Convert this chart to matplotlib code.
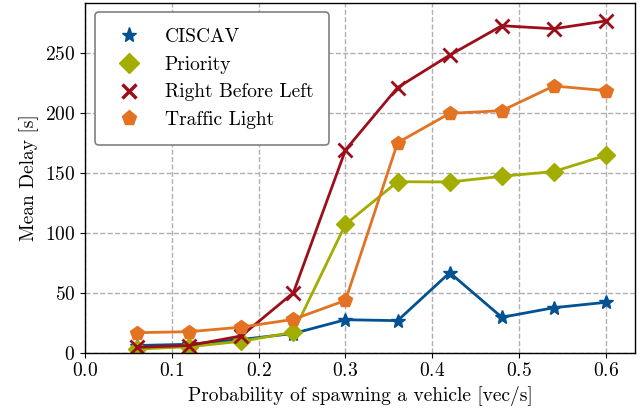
import matplotlib
matplotlib.use("Agg")
import matplotlib.pyplot as plt
from matplotlib.lines import Line2D

plt.rcParams['font.family'] = ['cmr10', 'DejaVu Serif']
plt.rcParams['mathtext.fontset'] = 'cm'
plt.rcParams['axes.formatter.use_mathtext'] = True

x = [0.06, 0.12, 0.18, 0.24, 0.30, 0.36, 0.42, 0.48, 0.54, 0.60]
ciscav = [6, 7, 11, 16, 27.5, 26.7, 66.7, 29.5, 37.5, 42]
priority = [3, 5, 9.5, 17, 107, 142.5, 142.3, 147, 151, 164.5]
rbl = [4.5, 6, 14, 50, 169, 221, 248, 272.5, 270, 276.5]
traffic = [16.7, 17.5, 21.3, 27.8, 43.6, 175, 199.5, 201.7, 222.3, 218.4]

labels = ["CISCAV", "Priority", "Right Before Left", "Traffic Light"]
colors = ["#005293", "#A2AD00", "#9C0E1A", "#E37222"]
markers = ['*', 'D', 'x', 'p']

fig = plt.figure(figsize=(6.44, 4.18), dpi=100)
ax = fig.add_axes([85/644, 1-352.7/418, 550/644, 350/418])

ax.plot(x, ciscav, color=colors[0], marker='*', markersize=10, lw=2, label=labels[0])
ax.plot(x, priority, color=colors[1], marker='D', markersize=9, lw=2, label=labels[1])
ax.plot(x, rbl, color=colors[2], marker='x', markersize=10, mew=2, lw=2, label=labels[2])
ax.plot(x, traffic, color=colors[3], marker='p', markersize=10, lw=2, label=labels[3])

ax.set_xlim(0, 0.6334)
ax.set_ylim(0, 291.7)
ax.set_xticks([0.0, 0.1, 0.2, 0.3, 0.4, 0.5, 0.6])
ax.set_yticks([0, 50, 100, 150, 200, 250])
ax.tick_params(labelsize=14)
ax.grid(True, linestyle='--', color='#b0b0b0', lw=1)
ax.set_axisbelow(True)
ax.set_xlabel("Probability of spawning a vehicle [vec/s]", fontsize=14, labelpad=4)
ax.set_ylabel("Mean Delay [s]", fontsize=14)

handles = [Line2D([], [], color=c, marker=m, linestyle='none',
                  markersize=(11 if m in '*p' else 10), mew=(2.5 if m == 'x' else 1))
           for c, m in zip(colors, markers)]
leg = ax.legend(handles, labels, loc='upper left', fontsize=14, fancybox=True, framealpha=1,
                edgecolor='#808080', borderpad=0.8, handlelength=1.9, handletextpad=0.9,
                labelspacing=0.5, borderaxespad=0.5)
leg.get_frame().set_linewidth(1.2)
for spine in ax.spines.values():
    spine.set_linewidth(1.0)

fig.savefig("out.png", dpi=100)
